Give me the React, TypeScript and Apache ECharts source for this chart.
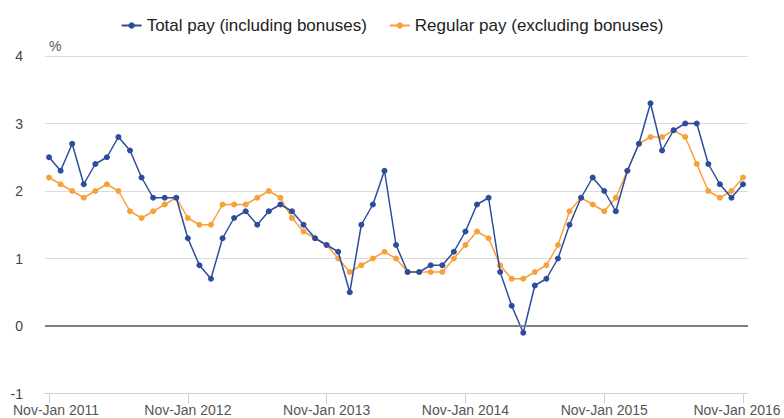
import React, { useEffect, useRef } from "react";
import * as echarts from "echarts";

const MONTHS = ["Jan", "Feb", "Mar", "Apr", "May", "Jun", "Jul", "Aug", "Sep", "Oct", "Nov", "Dec"];
// Rolling three-month periods, Nov-Jan 2011 ... Nov-Jan 2016
const categories: string[] = [];
for (let i = 0; i < 61; i++) {
  const start = (10 + i) % 12;
  const end = (start + 2) % 12;
  const year = 2011 + Math.floor((i + 10 + 2) / 12) - 1;
  categories.push(`${MONTHS[start]}-${MONTHS[end]} ${year}`);
}

const tickIndices = [0, 12, 24, 36, 48, 60];

const totalPay = [
  2.5, 2.3, 2.7, 2.1, 2.4, 2.5, 2.8, 2.6, 2.2, 1.9,
  1.9, 1.9, 1.3, 0.9, 0.7, 1.3, 1.6, 1.7, 1.5, 1.7,
  1.8, 1.7, 1.5, 1.3, 1.2, 1.1, 0.5, 1.5, 1.8, 2.3,
  1.2, 0.8, 0.8, 0.9, 0.9, 1.1, 1.4, 1.8, 1.9, 0.8,
  0.3, -0.1, 0.6, 0.7, 1.0, 1.5, 1.9, 2.2, 2.0, 1.7,
  2.3, 2.7, 3.3, 2.6, 2.9, 3.0, 3.0, 2.4, 2.1, 1.9,
  2.1,
];

const regularPay = [
  2.2, 2.1, 2.0, 1.9, 2.0, 2.1, 2.0, 1.7, 1.6, 1.7,
  1.8, 1.9, 1.6, 1.5, 1.5, 1.8, 1.8, 1.8, 1.9, 2.0,
  1.9, 1.6, 1.4, 1.3, 1.2, 1.0, 0.8, 0.9, 1.0, 1.1,
  1.0, 0.8, 0.8, 0.8, 0.8, 1.0, 1.2, 1.4, 1.3, 0.9,
  0.7, 0.7, 0.8, 0.9, 1.2, 1.7, 1.9, 1.8, 1.7, 1.9,
  2.3, 2.7, 2.8, 2.8, 2.9, 2.8, 2.4, 2.0, 1.9, 2.0,
  2.2,
];

const FONT = "'Liberation Sans', Arial, sans-serif";
const BLUE = "#2d4c9e";
const ORANGE = "#f7a13a";

export default function App() {
  const ref = useRef<HTMLDivElement>(null);
  useEffect(() => {
    if (!ref.current) return;
    const chart = echarts.init(ref.current, undefined, { renderer: "svg" });
    const toPairs = (arr: number[]) => arr.map((v, i) => [i, v]);
    chart.setOption({
      animation: false,
      textStyle: { fontFamily: FONT },
      legend: {
        top: 12,
        left: "center",
        data: ["Total pay (including bonuses)", "Regular pay (excluding bonuses)"],
        itemWidth: 20,
        itemHeight: 8,
        itemGap: 22,
        textStyle: { fontSize: 17, color: "#222", fontFamily: FONT },
      },
      grid: { left: 45, right: 36, top: 56, bottom: 24.5 },
      xAxis: {
        type: "value",
        min: -0.35,
        max: 60.43,
        splitLine: { show: false },
        axisLine: { onZero: false, lineStyle: { color: "#c3d0df", width: 1 } },
        axisTick: { show: true, customValues: tickIndices, length: 10, lineStyle: { color: "#c3d0df" } },
        axisLabel: {
          customValues: tickIndices,
          margin: 9,
          fontSize: 14,
          color: "#555",
          fontFamily: FONT,
          formatter: (v: number) => {
            const label = categories[Math.round(v)];
            if (Math.round(v) === 0) return `{first|${label}}`;
            if (Math.round(v) === 60) return `{last|${label}}`;
            return label;
          },
          rich: {
            first: { padding: [0, 0, 0, 14], fontSize: 14, color: "#555", fontFamily: FONT },
            last: { padding: [0, 12, 0, 0], fontSize: 14, color: "#555", fontFamily: FONT },
          },
        },
      },
      yAxis: {
        type: "value",
        min: -1,
        max: 4,
        interval: 1,
        name: "%",
        nameLocation: "end",
        nameGap: 3,
        nameTextStyle: { align: "left", fontSize: 14, color: "#555", fontFamily: FONT },
        axisLine: { show: false },
        axisTick: { show: false },
        axisLabel: { margin: 22, fontSize: 14, color: "#444", fontFamily: FONT },
        splitLine: { lineStyle: { color: "#dcdcdc", width: 1 } },
      },
      series: [
        {
          name: "zero",
          type: "line",
          data: [],
          z: 1,
          silent: true,
          markLine: {
            silent: true,
            symbol: "none",
            label: { show: false },
            lineStyle: { color: "#808080", width: 2, type: "solid" },
            data: [{ yAxis: 0 }],
          },
        },
        {
          name: "Total pay (including bonuses)",
          type: "line",
          data: toPairs(totalPay),
          color: BLUE,
          symbol: "circle",
          symbolSize: 6,
          lineStyle: { width: 1.5, color: BLUE },
          itemStyle: { color: BLUE },
          z: 3,
        },
        {
          name: "Regular pay (excluding bonuses)",
          type: "line",
          data: toPairs(regularPay),
          color: ORANGE,
          symbol: "circle",
          symbolSize: 6,
          lineStyle: { width: 1.5, color: ORANGE },
          itemStyle: { color: ORANGE },
          z: 2,
        },
      ],
    });
    return () => chart.dispose();
  }, []);
  return <div ref={ref} style={{ width: 784, height: 418, position: "absolute", left: 0, top: 0 }} />;
}
